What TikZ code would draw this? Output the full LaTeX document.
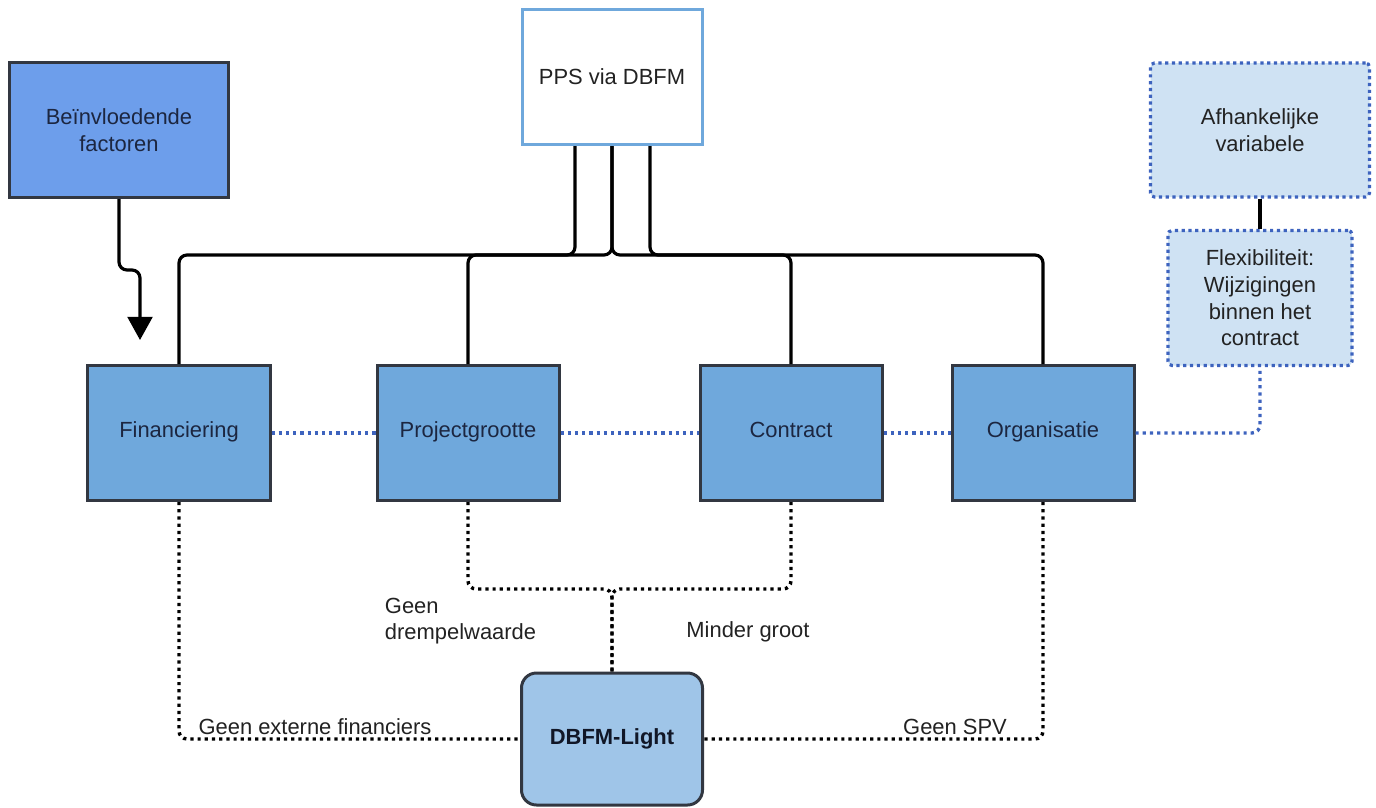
\documentclass[tikz,border=0pt]{standalone}
\usepackage{fontspec}
\setmainfont{Liberation Sans}
\usepackage{xcolor}
\usepackage{tikz}
\usetikzlibrary{shapes}
\usetikzlibrary{arrows.meta}
\definecolor{boxline}{RGB}{50,55,65}
\definecolor{boxtext}{RGB}{28,38,64}
\definecolor{labeltext}{RGB}{34,34,34}
\definecolor{factorfill}{RGB}{109,158,235}
\definecolor{mainfill}{RGB}{111,168,220}
\definecolor{lightfill}{RGB}{159,197,232}
\definecolor{palefill}{RGB}{207,226,243}
\definecolor{ppsline}{RGB}{111,168,220}
\definecolor{dotblue}{RGB}{61,99,190}
\newcommand{\diagfont}{\fontsize{15.6}{19}\selectfont}
\tikzset{
  main node/.style={rectangle,draw=boxline,fill=mainfill,line width=0.75mm,
    minimum width=45.5mm,minimum height=33.75mm,text=boxtext,font=\diagfont},
  row node/.style={main node,text height=1.6ex,text depth=0.45ex},
  factor node/.style={main node,fill=factorfill,minimum width=54.5mm},
  pps node/.style={main node,draw=ppsline,fill=white,minimum width=45mm,text=labeltext},
  result node/.style={main node,fill=lightfill,rounded corners=3.75mm,
    minimum width=45.25mm,minimum height=33mm,font=\diagfont\bfseries,text=boxtext!60!black},
  variable node/.style={rectangle,draw=dotblue,fill=palefill,line width=0.8mm,
    dash pattern=on 0.8mm off 0.9mm,rounded corners=1mm,text=labeltext,
    font=\diagfont,align=center},
  label/.style={font=\diagfont,text=labeltext},
  tree line/.style={line width=0.8mm,rounded corners=2mm},
  blue dots/.style={draw=dotblue,line width=0.85mm,dash pattern=on 0.8mm off 1mm,rounded corners=2mm},
  black dots/.style={line width=0.85mm,dash pattern=on 0.8mm off 1mm,rounded corners=2mm}
}
\begin{document}
\begin{tikzpicture}[x=0.25mm,y=-0.25mm,->,>={Triangle[width=6.2mm,length=5.8mm]}]
  \useasboundingbox (0,0) rectangle (1376,807);
  % boxes
  \node [factor node,align=center] (inv) at (119,130) {Beïnvloedende\\factoren};
  \node [pps node] (pps) at (612,77) {PPS via DBFM};
  \node [row node] (fin) at (179,433) {Financiering};
  \node [row node] (proj) at (468,433) {Projectgrootte};
  \node [row node] (con) at (791,433) {Contract};
  \node [row node] (org) at (1043,433) {Organisatie};
  \node [variable node,minimum width=54.75mm,minimum height=33.5mm] (afh) at (1260,130) {Afhankelijke\\variabele};
  \node [variable node,minimum width=46mm,minimum height=33.75mm] (flex) at (1260,298) {Flexibiliteit:\\Wijzigingen\\binnen het\\contract};
  \node [result node] (light) at (612,739) {DBFM-Light};
  \coordinate (fin in) at (140,340);
  % connectors
  \draw [tree line] (inv.south) -- ++(0,71) -| (fin in);
  \begin{scope}[-]
    \draw [tree line] ([xshift=-9.25mm]pps.south) -- ++(0,109) -| (fin.north);
    \draw [tree line] (pps.south) -- ++(0,109) -| (proj.north);
    \draw [tree line] (pps.south) -- ++(0,109) -| (con.north);
    \draw [tree line] ([xshift=9.5mm]pps.south) -- ++(0,109) -| (org.north);
    \draw [line width=0.8mm] (afh.south) -- (flex.north);
    \draw [blue dots] (fin.east) -- (proj.west);
    \draw [blue dots] (proj.east) -- (con.west);
    \draw [blue dots] (con.east) -- (org.west);
    \draw [blue dots] (org.east) -| (flex.south);
    \draw [black dots] (fin.south) |- (light.west);
    \draw [black dots] (org.south) |- (light.east);
    \draw [black dots] (proj.south) -- ++(0,87) -| (light.north);
    \draw [black dots] (con.south) -- ++(0,87) -| (light.north);
  \end{scope}
  % labels
  \node [label] (ext) at (315,727) {Geen externe financiers};
  \node [label] (spv) at (955,727) {Geen SPV};
  \node [label,anchor=west,align=left] (drempel) at (380,621) {Geen\\drempelwaarde};
  \node [label] (groot) at (748,632) {Minder groot};
\end{tikzpicture}
\end{document}
